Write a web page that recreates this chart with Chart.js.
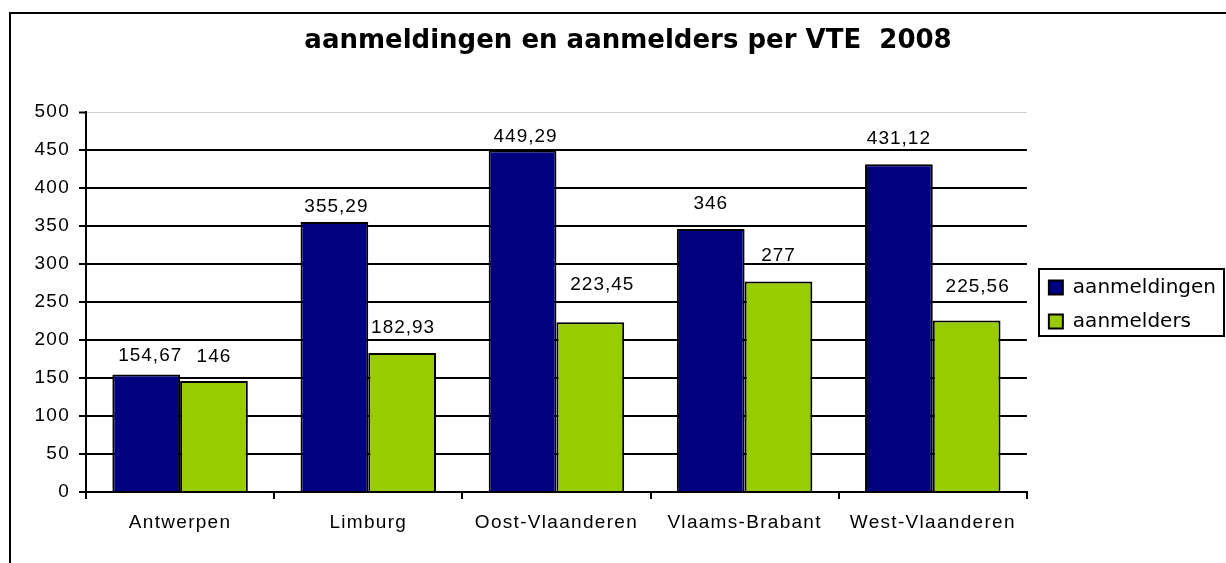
<!DOCTYPE html>
<html>
<head>
<meta charset="utf-8">
<script src="https://cdn.jsdelivr.net/npm/chart.js@4/dist/chart.umd.min.js"></script>
<style>
html, body { margin: 0; padding: 0; background: #fff; }
#wrap { width: 1226px; height: 563px; }
</style>
</head>
<body>
<div id="wrap"><canvas id="c" width="1226" height="563"></canvas></div>
<script>
// ---- data ----
const categories = ['Antwerpen', 'Limburg', 'Oost-Vlaanderen', 'Vlaams-Brabant', 'West-Vlaanderen'];
const aanmeldingen = [154.67, 355.29, 449.29, 346, 431.12];
const aanmelders = [146, 182.93, 223.45, 277, 225.56];
const seriesNames = ['aanmeldingen', 'aanmelders'];
const yTicks = [0, 50, 100, 150, 200, 250, 300, 350, 400, 450, 500];
const titleText = 'aanmeldingen en aanmelders per VTE  2008';

// ---- label styling (offsets of value labels relative to bar tops) ----
const labelLift = [[13, 10, 9, 20, 20], [19, 20, 32, 20, 29]];
const labelShift = [[4, 2, 3, 0, 0], [0, 1, 12, 0, 11]];

const AXIS_FONT = { family: '"Liberation Sans", Arial, sans-serif', size: 19 };
const LEGEND_PAD = 14;

const framePlugin = {
  id: 'frame',
  beforeDraw(chart) {
    const ctx = chart.ctx;
    ctx.save();
    ctx.fillStyle = '#fff';
    ctx.fillRect(0, 0, chart.width, chart.height);
    ctx.strokeStyle = '#000';
    ctx.lineWidth = 2;
    ctx.strokeRect(10, 13, chart.width + 50, chart.height + 50);
    ctx.restore();
  },
  afterLayout(chart) {
    Object.values(chart.scales).forEach(s => {
      if (s._lsPatched) return;
      const orig = s.drawLabels;
      s.drawLabels = function (area) {
        const c = this.ctx;
        c.save();
        c.letterSpacing = '1.3px';
        orig.call(this, area);
        c.restore();
      };
      s._lsPatched = true;
    });
  },
  afterDraw(chart) {
    const lg = chart.legend;
    if (!lg || !lg.columnSizes || !lg.columnSizes.length) return;
    const ctx = chart.ctx;
    const th = lg._computeTitleHeight();
    const colH = lg.columnSizes[0].height;
    const itemsTop = (lg.top + th + LEGEND_PAD + lg.bottom - colH) / 2;
    const top = Math.round(itemsTop - 9);
    const bottom = Math.round(itemsTop + colH - 10);
    const left = Math.round(lg.left + 4);
    const right = chart.width - 2;
    ctx.save();
    ctx.strokeStyle = '#000';
    ctx.lineWidth = 2;
    ctx.strokeRect(left, top, right - left, bottom - top);
    ctx.restore();
  }
};

const valueLabels = {
  id: 'valueLabels',
  afterDatasetsDraw(chart) {
    const ctx = chart.ctx;
    ctx.save();
    ctx.font = '19px "Liberation Sans", Arial, sans-serif';
    ctx.letterSpacing = '1px';
    ctx.fillStyle = '#000';
    ctx.textAlign = 'center';
    ctx.textBaseline = 'alphabetic';
    chart.data.datasets.forEach((ds, di) => {
      chart.getDatasetMeta(di).data.forEach((bar, i) => {
        const txt = String(ds.data[i]).replace('.', ',');
        ctx.fillText(txt, bar.x + labelShift[di][i], bar.y - labelLift[di][i]);
      });
    });
    ctx.restore();
  }
};

new Chart(document.getElementById('c'), {
  type: 'bar',
  data: {
    labels: categories,
    datasets: [
      {
        label: seriesNames[0], data: aanmeldingen,
        backgroundColor: '#000080', borderColor: '#000', borderWidth: 2,
        xAxisID: 'x', yAxisID: 'y'
      },
      {
        label: seriesNames[1], data: aanmelders,
        backgroundColor: '#99CC00', borderColor: '#000', borderWidth: 2,
        xAxisID: 'x', yAxisID: 'y'
      }
    ]
  },
  options: {
    responsive: false,
    animation: false,
    devicePixelRatio: 1,
    categoryPercentage: 0.72,
    barPercentage: 1.0,
    layout: { padding: { left: 30, right: 0, top: 14, bottom: 17.2 } },
    scales: {
      x: {
        grid: { drawOnChartArea: false, drawTicks: true, tickLength: 7, color: '#000', lineWidth: 2, offset: true },
        border: { display: true, color: '#000', width: 2 },
        ticks: { padding: 12, font: AXIS_FONT, color: '#000', maxRotation: 0, autoSkip: false }
      },
      y: {
        min: 0, max: 500,
        afterBuildTicks: s => { s.ticks = yTicks.map(v => ({ value: v })); },
        afterFit: s => { s.width = 56; },
        grid: {
          color: c => (c.tick && c.tick.value === 500) ? '#cfcfcf' : '#000',
          lineWidth: c => (c.tick && c.tick.value === 500) ? 1 : 2,
          tickColor: '#000', tickWidth: 2, tickLength: 7, drawTicks: true
        },
        border: { display: true, color: '#000', width: 2 },
        ticks: { padding: 9, font: AXIS_FONT, color: '#000' }
      },
      yPad: {
        type: 'linear', position: 'right', display: true,
        grid: { display: false, drawTicks: false },
        border: { display: false },
        ticks: { display: false },
        afterFit: s => { s.width = 8; }
      }
    },
    plugins: {
      title: {
        display: true, text: titleText, color: '#000',
        font: { family: '"DejaVu Sans", Verdana, sans-serif', weight: 'bold', size: 26, lineHeight: 1.2 },
        padding: { top: 11.9, bottom: 54.9 }
      },
      legend: {
        position: 'right', fullSize: false, align: 'center',
        title: { display: true, text: '', font: { size: 1, lineHeight: 1 }, padding: 2 },
        labels: {
          boxWidth: 14, boxHeight: 14, padding: LEGEND_PAD, color: '#000',
          font: { family: '"DejaVu Sans", Verdana, sans-serif', size: 20 }
        }
      },
      tooltip: { enabled: false }
    }
  },
  plugins: [framePlugin, valueLabels]
});
</script>
</body>
</html>
